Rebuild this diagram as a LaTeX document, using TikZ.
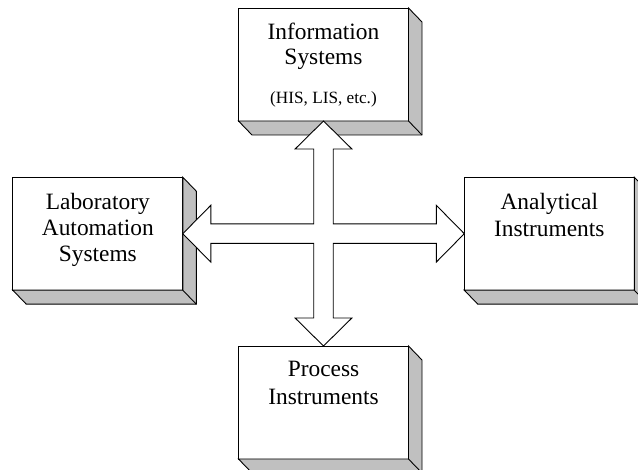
\documentclass[tikz,border=0pt]{standalone}
\usepackage{fontspec}
\setmainfont{Liberation Serif}
\usetikzlibrary{calc}
\definecolor{shade}{RGB}{192,192,192}
\tikzset{
  block/.style={rectangle, draw=black, fill=white, line width=0.9pt,
    minimum width=170pt, minimum height=113pt, inner sep=0pt, outer sep=0pt},
  side/.style={fill=shade, draw=black, line width=0.9pt, line join=miter},
  big/.style={anchor=base, inner sep=0pt, font=\fontsize{23.4}{26}\selectfont},
  small/.style={anchor=base, inner sep=0pt, font=\fontsize{17.2}{19}\selectfont},
  cross/.style={draw=black, fill=white, line width=0.9pt, line join=miter}
}
% bevelled depth below and to the right of a block
\newcommand\blockdepth[1]{%
  \draw[side] (#1.north east) -- ++(13.5,14) -- ($(#1.south east)+(13.5,14)$)
    -- ($(#1.south west)+(13.5,14)$) -- (#1.south west) -- (#1.south east) -- cycle;
  \draw[side] (#1.south east) -- ++(13.5,14);}
\begin{document}
\begin{tikzpicture}[x=1pt, y=-1pt]
  \useasboundingbox (0,0) rectangle (638,470);
  \fill[white] (0,0) rectangle (638,470);
  \clip (0,0) rectangle (638,470);

  % blocks
  \node[block] (info) at (323.5,64.5) {};
  \node[block] (lab)  at (97.8,233.7) {};
  \node[block] (ana)  at (549.3,233.7) {};
  \node[block] (proc) at (323.5,402.5) {};
  \blockdepth{info}
  \blockdepth{lab}
  \blockdepth{ana}
  \blockdepth{proc}

  % labels
  \node[big]   (infoA) at ($(info.north)+(0,31.3)$) {Information};
  \node[big]   (infoB) at ($(info.north)+(0,57)$)   {Systems};
  \node[small] (infoC) at ($(info.north)+(0,96)$)   {(HIS, LIS, etc.)};
  \node[big]   (labA)  at ($(lab.north)+(0,32.8)$)  {Laboratory};
  \node[big]   (labB)  at ($(lab.north)+(0,58.8)$)  {Automation};
  \node[big]   (labC)  at ($(lab.north)+(0,84.8)$)  {Systems};
  \node[big]   (anaA)  at ($(ana.north)+(0,32.8)$)  {Analytical};
  \node[big]   (anaB)  at ($(ana.north)+(0,59.3)$)  {Instruments};
  \node[big]   (procA) at ($(proc.north)+(0,30.5)$) {Process};
  \node[big]   (procB) at ($(proc.north)+(0,59)$)   {Instruments};

  % four-way hollow arrow joining the blocks
  \coordinate (T) at (info.south);
  \coordinate (B) at (proc.north);
  \coordinate (L) at (lab.east);
  \coordinate (R) at (ana.west);
  \coordinate (c) at (info.south |- lab.east);
  \draw[cross] (T)
    -- ($(T)+(28.4,28)$) -- ($(T)+(9.75,28)$) -- ($(c)+(9.75,-9.75)$)
    -- ($(R)+(-28,-9.75)$) -- ($(R)+(-28,-28.4)$) -- (R)
    -- ($(R)+(-28,28.4)$) -- ($(R)+(-28,9.75)$) -- ($(c)+(9.75,9.75)$)
    -- ($(B)+(9.75,-28)$) -- ($(B)+(28.4,-28)$) -- (B)
    -- ($(B)+(-28.4,-28)$) -- ($(B)+(-9.75,-28)$) -- ($(c)+(-9.75,9.75)$)
    -- ($(L)+(28,9.75)$) -- ($(L)+(28,28.4)$) -- (L)
    -- ($(L)+(28,-28.4)$) -- ($(L)+(28,-9.75)$) -- ($(c)+(-9.75,-9.75)$)
    -- ($(T)+(-9.75,28)$) -- ($(T)+(-28.4,28)$) -- cycle;
\end{tikzpicture}
\end{document}
